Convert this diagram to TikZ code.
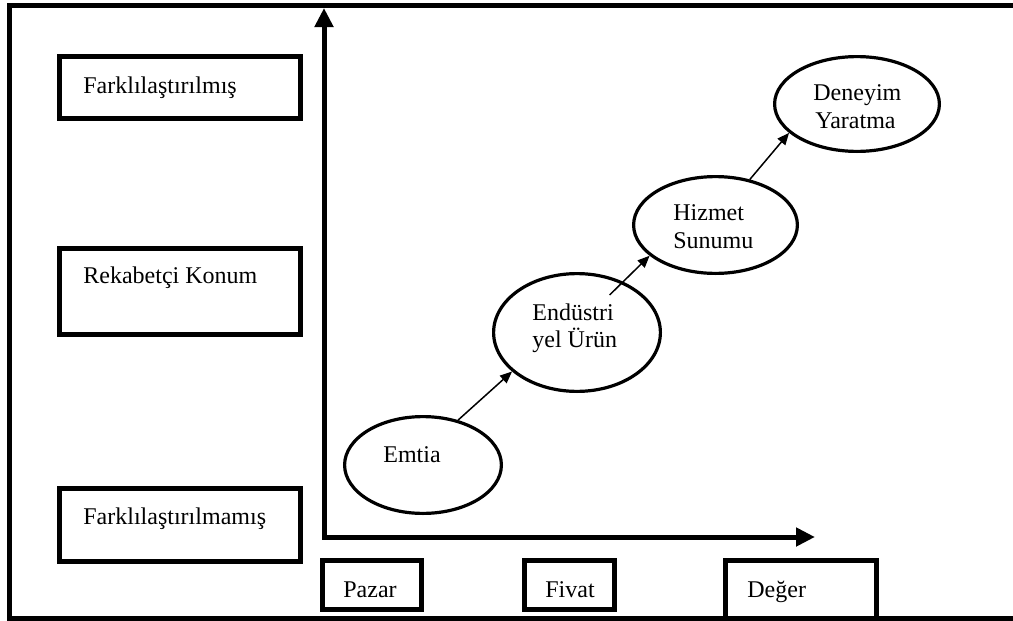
\documentclass[tikz,border=0pt]{standalone}
\usepackage{fontspec}
\setmainfont{Liberation Serif}
\usetikzlibrary{arrows.meta,shapes.geometric,calc}
\begin{document}
\begin{tikzpicture}[x=0.5pt,y=-0.5pt,
  lbl/.style={anchor=base west,inner sep=0pt,font=\fontsize{12}{14}\selectfont},
  sqbox/.style={draw,line width=2.5pt,inner sep=0pt,rectangle},
  oval/.style={draw,ellipse,line width=1.6pt,inner sep=0pt},
  conn/.style={line width=0.75pt,-{Triangle[length=6pt,width=5pt]}},
  axis/.style={line width=2.5pt,line join=miter,{Triangle[length=9.5pt,width=9pt]}-{Triangle[length=9.5pt,width=9pt]}}]
\useasboundingbox (0,0) rectangle (1013,621);
% outer frame (right side outside the picture)
\draw[line width=2.3pt,line join=miter] (1040,5.3) -- (9.3,5.3) -- (9.3,618.5) -- (1040,618.5);
% left boxes
\node[sqbox,minimum width=120.5pt,minimum height=31pt] (b1) at (180,87.5) {};
\node[lbl] (t1) at (83,93) {Farklılaştırılmış};
\node[sqbox,minimum width=120.5pt,minimum height=42.85pt] (b2) at (180,291.3) {};
\node[lbl] (t2) at (83,283) {Rekabetçi Konum};
\node[sqbox,minimum width=120.5pt,minimum height=36.5pt] (b3) at (180,525) {};
\node[lbl] (t3) at (83,524) {Farklılaştırılmamış};
% bottom boxes
\node[sqbox,minimum width=49.5pt,minimum height=24.5pt] (p) at (372,585) {};
\node[lbl] (tp) at (343,597) {Pazar};
\node[sqbox,minimum width=45pt,minimum height=24.5pt] (f) at (569.5,585) {};
\node[lbl] (tf) at (545,597) {Fivat};
\node[sqbox,minimum width=75.5pt,minimum height=29pt] (d) at (801,589.5) {};
\node[lbl] (td) at (747,597) {Değer};
% axes
\coordinate (ytip) at (324,8);
\coordinate (corner) at (324,537);
\coordinate (xtip) at (815,537);
\draw[axis] (ytip) -- (corner) -- (xtip);
% ellipses
\node[oval,minimum width=78.4pt,minimum height=48.4pt] (emtia) at (423,465) {};
\node[lbl] (te) at (383,462) {Emtia};
\node[oval,minimum width=83.4pt,minimum height=58.9pt] (endu) at (577,332.5) {};
\node[lbl] (tu1) at (532,320) {Endüstri};
\node[lbl] (tu2) at (532,347) {yel Ürün};
\node[oval,minimum width=81.9pt,minimum height=48.4pt] (hiz) at (715.5,225) {};
\node[lbl] (th1) at (673,220) {Hizmet};
\node[lbl] (th2) at (673,248) {Sunumu};
\node[oval,minimum width=82.4pt,minimum height=47.4pt] (den) at (857,104) {};
\node[lbl] (tn1) at (813,100) {Deneyim};
\node[lbl] (tn2) at (815,128) {Yaratma};
% connectors
\draw[conn] (emtia.52) -- (endu.211);
\draw[conn] ($(endu)!0.73!(endu.49)$) -- (hiz.205);
\draw[conn] (hiz.53) -- (den.203);
\end{tikzpicture}
\end{document}
